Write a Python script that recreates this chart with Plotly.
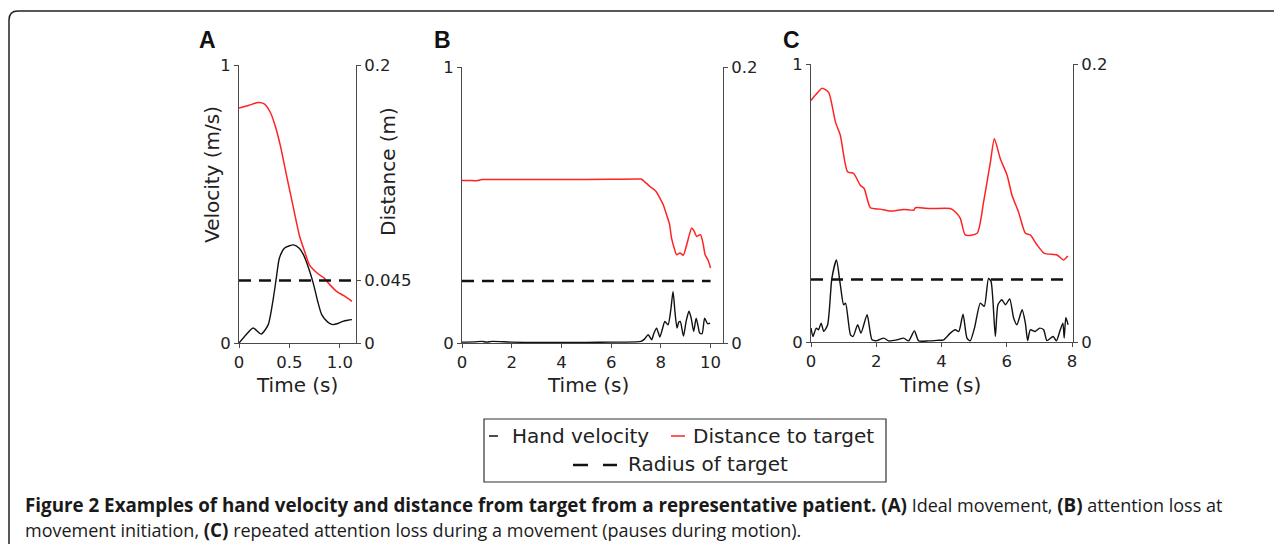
import plotly.graph_objects as go

# ---------------- data ----------------
# Panel A
a_dist_t = [0, 0.1, 0.19, 0.25, 0.31, 0.36, 0.41, 0.47, 0.54, 0.6, 0.65, 0.7, 0.78, 0.84, 0.9, 0.97, 1.04, 1.12]
a_dist = [0.169, 0.171, 0.173, 0.172, 0.166, 0.156, 0.142, 0.121, 0.097, 0.077, 0.066, 0.056, 0.050, 0.047, 0.042, 0.037, 0.034, 0.030]
a_vel_t = [0, 0.07, 0.14, 0.22, 0.29, 0.34, 0.37, 0.40, 0.45, 0.54, 0.6, 0.64, 0.69, 0.74, 0.78, 0.82, 0.88, 0.93, 0.98, 1.03, 1.08, 1.12]
a_vel = [0, 0.03, 0.054, 0.032, 0.066, 0.16, 0.234, 0.305, 0.341, 0.353, 0.34, 0.317, 0.27, 0.21, 0.15, 0.102, 0.075, 0.066, 0.07, 0.078, 0.082, 0.084]

# Panel B
b_dist_t = [0, 0.3, 0.6, 0.8, 2, 4, 6, 7.0, 7.2, 7.4, 7.56, 7.8, 7.96, 8.1, 8.23, 8.35, 8.43, 8.55, 8.63, 8.77, 8.9, 9.04, 9.14, 9.24, 9.34, 9.44, 9.52, 9.6, 9.7, 9.78, 9.9, 10.0]
b_dist = [0.1178, 0.1178, 0.1176, 0.1184, 0.1184, 0.1184, 0.1186, 0.1188, 0.1188, 0.116, 0.1134, 0.110, 0.105, 0.100, 0.093, 0.086, 0.076, 0.068, 0.064, 0.0652, 0.0636, 0.0712, 0.078, 0.0834, 0.081, 0.0772, 0.078, 0.0784, 0.072, 0.064, 0.060, 0.0544]
b_vel_t = [0, 0.5, 0.8, 1.0, 1.2, 2, 3, 4, 5, 6, 7.0, 7.2, 7.35, 7.49, 7.63, 7.72, 7.83, 7.96, 8.06, 8.16, 8.29, 8.4, 8.49, 8.57, 8.65, 8.72, 8.78, 8.91, 9.02, 9.13, 9.22, 9.32, 9.42, 9.5, 9.56, 9.66, 9.76, 9.88, 9.98]
b_vel = [0.003, 0.004, 0.006, 0.003, 0.006, 0.003, 0.002, 0.002, 0.002, 0.003, 0.004, 0.006, 0.015, 0.03, 0.012, 0.035, 0.054, 0.022, 0.05, 0.078, 0.066, 0.12, 0.187, 0.11, 0.054, 0.075, 0.078, 0.025, 0.08, 0.115, 0.09, 0.042, 0.09, 0.06, 0.036, 0.034, 0.09, 0.07, 0.072]

# Panel C
c_dist_t = [0, 0.15, 0.34, 0.54, 0.75, 0.9, 1.12, 1.31, 1.51, 1.63, 1.82, 2.12, 2.43, 2.84, 3.15, 3.2, 3.66, 4.27, 4.45, 4.58, 4.73, 5.09, 5.29, 5.5, 5.62, 5.8, 6.01, 6.16, 6.36, 6.57, 6.72, 6.93, 7.15, 7.54, 7.74, 7.87]
c_dist = [0.1738, 0.178, 0.1826, 0.1796, 0.1582, 0.1486, 0.1224, 0.1212, 0.1128, 0.1104, 0.0966, 0.0956, 0.0942, 0.0954, 0.0948, 0.0966, 0.096, 0.096, 0.093, 0.0888, 0.077, 0.0782, 0.1008, 0.1296, 0.1462, 0.132, 0.120, 0.1056, 0.0936, 0.0782, 0.077, 0.0698, 0.0638, 0.0626, 0.059, 0.0618]
c_vel_t = [0, 0.06, 0.16, 0.23, 0.31, 0.39, 0.51, 0.64, 0.78, 0.9, 1.0, 1.06, 1.21, 1.29, 1.43, 1.53, 1.72, 1.87, 2.02, 2.23, 2.38, 2.64, 2.84, 2.99, 3.17, 3.3, 3.6, 3.86, 4.07, 4.27, 4.42, 4.53, 4.66, 4.78, 4.88, 5.01, 5.19, 5.31, 5.44, 5.52, 5.65, 5.73, 5.85, 5.96, 6.09, 6.21, 6.31, 6.47, 6.57, 6.64, 6.72, 6.87, 7.01, 7.13, 7.23, 7.42, 7.52, 7.64, 7.72, 7.76, 7.81, 7.88]
c_vel = [0.05, 0.02, 0.05, 0.044, 0.068, 0.038, 0.062, 0.229, 0.295, 0.205, 0.134, 0.14, 0.026, 0.02, 0.062, 0.032, 0.098, 0.008, 0.005, 0.014, 0.004, 0.008, 0.014, 0.004, 0.04, 0.004, 0.004, 0.006, 0.008, 0.032, 0.044, 0.038, 0.1, 0.014, 0.004, 0.05, 0.14, 0.128, 0.229, 0.217, 0.02, 0.134, 0.152, 0.134, 0.155, 0.086, 0.062, 0.116, 0.068, 0.005, 0.044, 0.038, 0.05, 0.044, 0.005, 0.02, 0.004, 0.044, 0.068, 0.014, 0.088, 0.062]

target_radius = 0.045

panel_letters = ["A", "B", "C"]
x_ranges = [[0, 1.16], [0, 10.5], [0, 8.03]]
x_tickvals = [[0, 0.5, 1.0], [0, 2, 4, 6, 8, 10], [0, 2, 4, 6, 8]]
x_ticktext = [["0", "0.5", "1.0"], ["0", "2", "4", "6", "8", "10"], ["0", "2", "4", "6", "8"]]
right_tickvals = [[0, 0.045, 0.2], [0, 0.2], [0, 0.2]]
right_ticktext = [["0", "0.045", "0.2"], ["0", "0.2"], ["0", "0.2"]]
legend_labels = ["Hand velocity", "Distance to target", "Radius of target"]
BS = "<span style='font-size:18.8px'><b>"
BE = "</b></span>"
caption_1 = (BS + "Figure 2 Examples of hand velocity and distance from target from a representative patient. (A)" + BE +
             " Ideal movement, " + BS + "(B)" + BE + " attention loss at")
caption_2 = "movement initiation, " + BS + "(C)" + BE + " repeated attention loss during a movement (pauses during motion)."

# ---------------- layout helpers ----------------
OX, OY = 8, 8          # page body margin
W, H = 1274, 536       # figure size so that page (with margins) is 1282x552

def px(x):
    return (x - OX) / W

def py(y):
    return 1 - (y - OY) / H

# pixel boxes of plot areas in page coords: (left, right, top, bottom)
boxes = [(239, 356, 65, 343), (462, 723, 67, 343), (811, 1073, 64, 342)]

AX = "#4a4a4a"
TXT = "#222222"
FONT = "DejaVu Sans"
RED = "#ff2222"
BLK = "#111111"
TICK = 16.5

fig = go.Figure()

series = [
    (a_vel_t, a_vel, a_dist_t, a_dist),
    (b_vel_t, b_vel, b_dist_t, b_dist),
    (c_vel_t, c_vel, c_dist_t, c_dist),
]

for i, (vt, v, dt, d) in enumerate(series):
    xa = "x" if i == 0 else f"x{i+1}"
    yl = "y" if i == 0 else f"y{2*i+1}"
    yr = f"y{2*i+2}"
    fig.add_trace(go.Scatter(x=dt, y=d, mode="lines", xaxis=xa, yaxis=yr,
                             line=dict(color=RED, width=1.5, shape="spline", smoothing=0.6),
                             showlegend=False, hoverinfo="skip"))
    fig.add_trace(go.Scatter(x=vt, y=v, mode="lines", xaxis=xa, yaxis=yl,
                             line=dict(color=BLK, width=1.4, shape="spline", smoothing=0.6),
                             showlegend=False, hoverinfo="skip"))
    fig.add_trace(go.Scatter(x=[0, max(dt)], y=[target_radius, target_radius], mode="lines",
                             xaxis=xa, yaxis=yr,
                             line=dict(color=BLK, width=2.5, dash="12px,8px"),
                             showlegend=False, hoverinfo="skip"))

layout = dict(width=W, height=H, margin=dict(l=0, r=0, t=0, b=0, autoexpand=False),
              paper_bgcolor="white", plot_bgcolor="white", showlegend=False)

for i, (l, r, t, b) in enumerate(boxes):
    xk = "xaxis" if i == 0 else f"xaxis{i+1}"
    ylk = "yaxis" if i == 0 else f"yaxis{2*i+1}"
    yrk = f"yaxis{2*i+2}"
    yl_name = "y" if i == 0 else f"y{2*i+1}"
    x_name = "x" if i == 0 else f"x{i+1}"
    common = dict(showline=True, linecolor=AX, linewidth=1, ticks="outside",
                  ticklen=4, tickcolor=AX, showgrid=False, zeroline=False,
                  tickfont=dict(family=FONT, size=TICK, color=TXT))
    layout[xk] = dict(domain=[px(l), px(r)], range=x_ranges[i], anchor=yl_name,
                      tickvals=x_tickvals[i], ticktext=x_ticktext[i], **common)
    layout[ylk] = dict(domain=[py(b), py(t)], range=[0, 1], anchor=x_name,
                       tickvals=[0, 1], ticktext=["0", "1"], **common)
    layout[yrk] = dict(domain=[py(b), py(t)], range=[0, 0.2], anchor=x_name,
                       overlaying=yl_name, side="right",
                       tickvals=right_tickvals[i], ticktext=right_ticktext[i], **common)

fig.update_layout(**layout)

ann = []
for letter, xx in zip(panel_letters, [207, 442, 791]):
    ann.append(dict(x=px(xx), y=py(40), xref="paper", yref="paper", text=f"<b>{letter}</b>",
                    showarrow=False, xanchor="center", yanchor="middle",
                    font=dict(family="Liberation Sans", size=23, color="#111")))
for xx in [297, 588, 940]:
    ann.append(dict(x=px(xx), y=py(385), xref="paper", yref="paper", text="Time (s)",
                    showarrow=False, xanchor="center", yanchor="middle",
                    font=dict(family=FONT, size=20, color=TXT)))
ann.append(dict(x=px(212), y=py(175), xref="paper", yref="paper", text="Velocity (m/s)",
                showarrow=False, textangle=-90, xanchor="center", yanchor="middle",
                font=dict(family=FONT, size=20, color=TXT)))
ann.append(dict(x=px(388), y=py(172), xref="paper", yref="paper", text="Distance (m)",
                showarrow=False, textangle=-90, xanchor="center", yanchor="middle",
                font=dict(family=FONT, size=20, color=TXT)))
# legend texts
ann.append(dict(x=px(510), y=py(436), xref="paper", yref="paper", text=legend_labels[0],
                showarrow=False, xanchor="left", yanchor="middle",
                font=dict(family=FONT, size=20, color=TXT)))
ann.append(dict(x=px(691), y=py(436), xref="paper", yref="paper", text=legend_labels[1],
                showarrow=False, xanchor="left", yanchor="middle",
                font=dict(family=FONT, size=20, color=TXT)))
ann.append(dict(x=px(626), y=py(464), xref="paper", yref="paper", text=legend_labels[2],
                showarrow=False, xanchor="left", yanchor="middle",
                font=dict(family=FONT, size=20, color=TXT)))
# caption
CAP = "Open Sans"
ann.append(dict(x=px(23), y=py(505), xref="paper", yref="paper", text=caption_1,
                showarrow=False, xanchor="left", yanchor="middle",
                font=dict(family=CAP, size=18, color="#1a1a1a")))
ann.append(dict(x=px(23), y=py(530), xref="paper", yref="paper", text=caption_2,
                showarrow=False, xanchor="left", yanchor="middle",
                font=dict(family=CAP, size=18, color="#1a1a1a")))

shapes = []
shapes.append(dict(type="rect", xref="paper", yref="paper", x0=px(484), x1=px(886), y0=py(482), y1=py(419),
                   line=dict(color="#333", width=1.2), fillcolor="rgba(0,0,0,0)"))
shapes.append(dict(type="line", xref="paper", yref="paper", x0=px(489), x1=px(498), y0=py(436), y1=py(436),
                   line=dict(color=BLK, width=1.5)))
shapes.append(dict(type="line", xref="paper", yref="paper", x0=px(671), x1=px(685), y0=py(436), y1=py(436),
                   line=dict(color=RED, width=1.5)))
shapes.append(dict(type="line", xref="paper", yref="paper", x0=px(573), x1=px(588), y0=py(465), y1=py(465),
                   line=dict(color=BLK, width=2.5)))
shapes.append(dict(type="line", xref="paper", yref="paper", x0=px(603), x1=px(617), y0=py(465), y1=py(465),
                   line=dict(color=BLK, width=2.5)))
x0, yt, rr = 9, 11, 9
path = (f"M {px(x0)},{py(560)} L {px(x0)},{py(yt + rr)} "
        f"Q {px(x0)},{py(yt)} {px(x0 + rr)},{py(yt)} L {px(1290)},{py(yt)}")
shapes.append(dict(type="path", xref="paper", yref="paper", path=path,
                   line=dict(color="#222", width=1.5)))

fig.update_layout(annotations=ann, shapes=shapes)
fig.write_html("out.html")
